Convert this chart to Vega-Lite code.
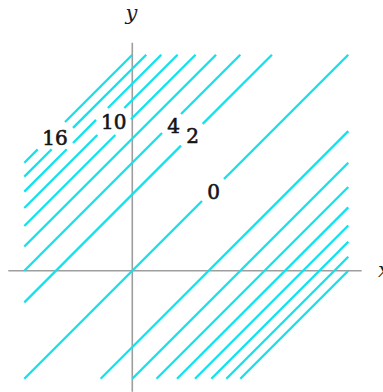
{
  "$schema": "https://vega.github.io/schema/vega-lite/v6.json",
  "width": 383,
  "height": 392,
  "autosize": {"type": "fit", "contains": "padding"},
  "padding": 0,
  "background": "white",
  "config": {"view": {"stroke": null}},
  "datasets": {
    "axes": [
      {"axis": "x", "x": -2.296, "y": 0},
      {"axis": "x", "x": 4.248, "y": 0},
      {"axis": "y", "x": 0, "y": -2.24},
      {"axis": "y", "x": 0, "y": 4.222}
    ],
    "curves": [
      {"level": 0, "piece": "0a", "x": -2, "y": -2},
      {"level": 0, "piece": "0a", "x": 1.291, "y": 1.291},
      {"level": 0, "piece": "0b", "x": 1.698, "y": 1.698},
      {"level": 0, "piece": "0b", "x": 4, "y": 4},

      {"level": 2, "piece": "2u-a", "x": -2, "y": -0.586},
      {"level": 2, "piece": "2u-a", "x": 0.902, "y": 2.316},
      {"level": 2, "piece": "2u-b", "x": 1.304, "y": 2.718},
      {"level": 2, "piece": "2u-b", "x": 2.586, "y": 4},
      {"level": 4, "piece": "4u-a", "x": -2, "y": 0},
      {"level": 4, "piece": "4u-a", "x": 0.55, "y": 2.55},
      {"level": 4, "piece": "4u-b", "x": 0.902, "y": 2.902},
      {"level": 4, "piece": "4u-b", "x": 2, "y": 4},
      {"level": 6, "piece": "6u", "x": -2, "y": 0.449},
      {"level": 6, "piece": "6u", "x": 1.551, "y": 4},
      {"level": 8, "piece": "8u-a", "x": -2, "y": 0.828},
      {"level": 8, "piece": "8u-a", "x": -0.315, "y": 2.513},
      {"level": 8, "piece": "8u-b", "x": -0.024, "y": 2.804},
      {"level": 8, "piece": "8u-b", "x": 1.172, "y": 4},
      {"level": 10, "piece": "10u-a", "x": -2, "y": 1.162},
      {"level": 10, "piece": "10u-a", "x": -0.648, "y": 2.514},
      {"level": 10, "piece": "10u-b", "x": -0.148, "y": 3.014},
      {"level": 10, "piece": "10u-b", "x": 0.838, "y": 4},
      {"level": 12, "piece": "12u-a", "x": -2, "y": 1.464},
      {"level": 12, "piece": "12u-a", "x": -1.215, "y": 2.249},
      {"level": 12, "piece": "12u-b", "x": -1.098, "y": 2.366},
      {"level": 12, "piece": "12u-b", "x": -0.672, "y": 2.792},
      {"level": 12, "piece": "12u-c", "x": -0.452, "y": 3.012},
      {"level": 12, "piece": "12u-c", "x": 0.536, "y": 4},
      {"level": 14, "piece": "14u-a", "x": -2, "y": 1.742},
      {"level": 14, "piece": "14u-a", "x": -1.493, "y": 2.249},
      {"level": 14, "piece": "14u-b", "x": -1.098, "y": 2.644},
      {"level": 14, "piece": "14u-b", "x": 0.258, "y": 4},
      {"level": 16, "piece": "16u-a", "x": -2, "y": 2},
      {"level": 16, "piece": "16u-a", "x": -1.752, "y": 2.248},
      {"level": 16, "piece": "16u-b", "x": -1.246, "y": 2.754},
      {"level": 16, "piece": "16u-b", "x": 0, "y": 4},

      {"level": 2, "piece": "2d", "x": -0.586, "y": -2},
      {"level": 2, "piece": "2d", "x": 4, "y": 2.586},
      {"level": 4, "piece": "4d", "x": 0, "y": -2},
      {"level": 4, "piece": "4d", "x": 4, "y": 2},
      {"level": 6, "piece": "6d", "x": 0.449, "y": -2},
      {"level": 6, "piece": "6d", "x": 4, "y": 1.551},
      {"level": 8, "piece": "8d", "x": 0.828, "y": -2},
      {"level": 8, "piece": "8d", "x": 4, "y": 1.172},
      {"level": 10, "piece": "10d", "x": 1.162, "y": -2},
      {"level": 10, "piece": "10d", "x": 4, "y": 0.838},
      {"level": 12, "piece": "12d", "x": 1.464, "y": -2},
      {"level": 12, "piece": "12d", "x": 4, "y": 0.536},
      {"level": 14, "piece": "14d", "x": 1.742, "y": -2},
      {"level": 14, "piece": "14d", "x": 4, "y": 0.258},
      {"level": 16, "piece": "16d", "x": 2, "y": -2},
      {"level": 16, "piece": "16d", "x": 4, "y": 0}
    ],
    "labels": [
      {"level": 16, "x": -1.431, "y": 2.447},
      {"level": 10, "x": -0.343, "y": 2.73},
      {"level": 4, "x": 0.763, "y": 2.652},
      {"level": 2, "x": 1.115, "y": 2.467},
      {"level": 0, "x": 1.504, "y": 1.448}
    ],
    "titles": [
      {"name": "x", "x": 4.66, "y": -0.117},
      {"name": "y", "x": -0.015, "y": 4.643}
    ]
  },
  "encoding": {
    "x": {"field": "x", "type": "quantitative", "scale": {"domain": [-2.45, 4.643], "nice": false, "zero": false}, "axis": null},
    "y": {"field": "y", "type": "quantitative", "scale": {"domain": [-2.246, 5.013], "nice": false, "zero": false}, "axis": null}
  },
  "layer": [
    {
      "data": {"name": "axes"},
      "mark": {"type": "line", "color": "#9e9e9e", "strokeWidth": 1.6, "clip": true},
      "encoding": {"detail": {"field": "axis"}}
    },
    {
      "data": {"name": "curves"},
      "mark": {"type": "line", "color": "#10E3EE", "strokeWidth": 2.3, "strokeCap": "butt"},
      "encoding": {"detail": {"field": "piece"}}
    },
    {
      "data": {"name": "labels"},
      "mark": {"type": "text", "font": "DejaVu Serif", "fontSize": 20, "fill": "#151515", "stroke": "#151515", "strokeWidth": 0.6, "align": "center", "baseline": "middle"},
      "encoding": {"text": {"field": "level"}}
    },
    {
      "data": {"name": "titles"},
      "mark": {"type": "text", "font": "DejaVu Serif", "fontSize": 21, "fontStyle": "italic", "color": "#1c1c1c", "align": "center", "baseline": "alphabetic", "clip": true},
      "encoding": {"text": {"field": "name"}}
    }
  ]
}
